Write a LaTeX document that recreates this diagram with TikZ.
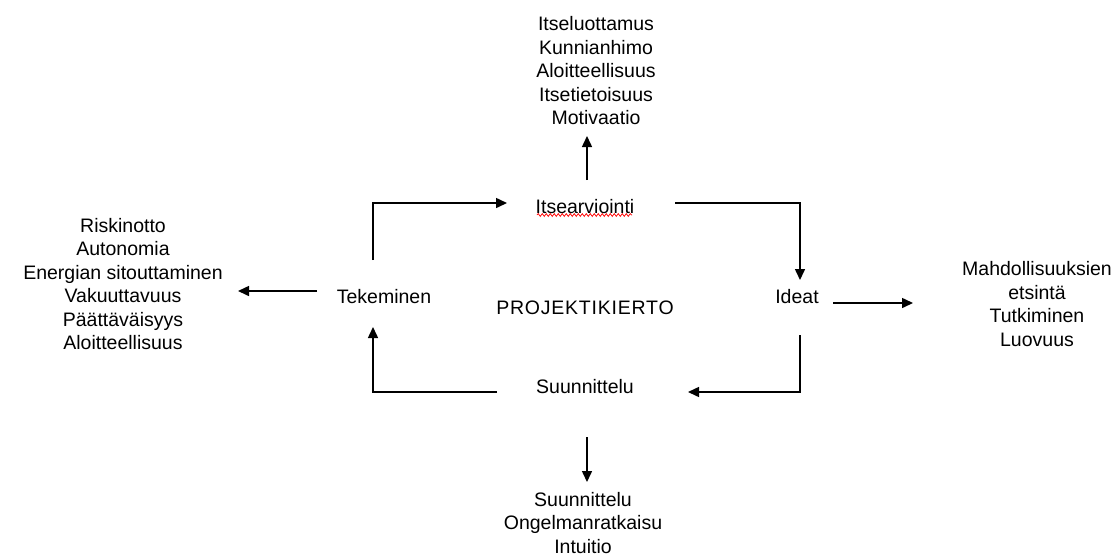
\documentclass[tikz,border=0pt]{standalone}
\usepackage{fontspec}
\setmainfont{Liberation Sans}
\usetikzlibrary{arrows.meta,calc,decorations.pathmorphing}
\begin{document}
\begin{tikzpicture}[x=1pt,y=-1pt,
  lbl/.style={inner sep=0pt,align=center,font=\fontsize{19.5}{23.5}\selectfont},
  arr/.style={line width=1.5pt,-{Triangle[length=11pt,width=10pt]}},
  ln/.style={line width=1.5pt}]
\useasboundingbox[fill=white] (0,0) rectangle (1114,558);
% main cycle nodes
\node[lbl] (its)   at (585,207) {Itsearviointi};
\node[lbl] (ideat) at (797,297) {Ideat};
\node[lbl] (suun)  at (585,387) {Suunnittelu};
\node[lbl] (tek)   at (384,297) {Tekeminen};
\node[lbl] (proj)  at (585,308) {\addfontfeature{LetterSpace=4}PROJEKTIKIERTO};
% outer lists
\node[lbl] (top)   at (596,71) {Itseluottamus\\Kunnianhimo\\Aloitteellisuus\\Itsetietoisuus\\Motivaatio};
\node[lbl] (left)  at (123,284) {Riskinotto\\Autonomia\\Energian sitouttaminen\\Vakuuttavuus\\Päättäväisyys\\Aloitteellisuus};
\node[lbl] (right) at (1037,304) {Mahdollisuuksien\\etsintä\\Tutkiminen\\Luovuus};
\node[lbl] (bot)   at (583,523) {Suunnittelu\\Ongelmanratkaisu\\Intuitio};
% spell-check squiggle
\draw[red,line width=0.7pt,decorate,decoration={snake,amplitude=1.4pt,segment length=4pt}]
  ($(its)+(-48,8)$) -- ($(its)+(47,8)$);
% cycle connectors
\draw[arr] ($(tek)+(-11,-37)$) |- ($(its)+(-78,-4)$);
\draw[arr] ($(its)+(90,-4)$) -| ($(ideat)+(3,-17)$);
\draw[arr] ($(ideat)+(3,38)$) |- ($(suun)+(103,5)$);
\draw[arr] ($(suun)+(-88,5)$) -| ($(tek)+(-11,30)$);
% outward connectors
\draw[arr] ($(its)+(2,-27)$) -- ($(its)+(2,-71)$);
\draw[arr] ($(suun)+(2,50)$) -- ($(suun)+(2,95)$);
\draw[arr] ($(tek)+(-67,-6)$) -- ($(tek)+(-146,-6)$);
\draw[arr] ($(ideat)+(36,6)$) -- ($(ideat)+(116,6)$);
\end{tikzpicture}
\end{document}
